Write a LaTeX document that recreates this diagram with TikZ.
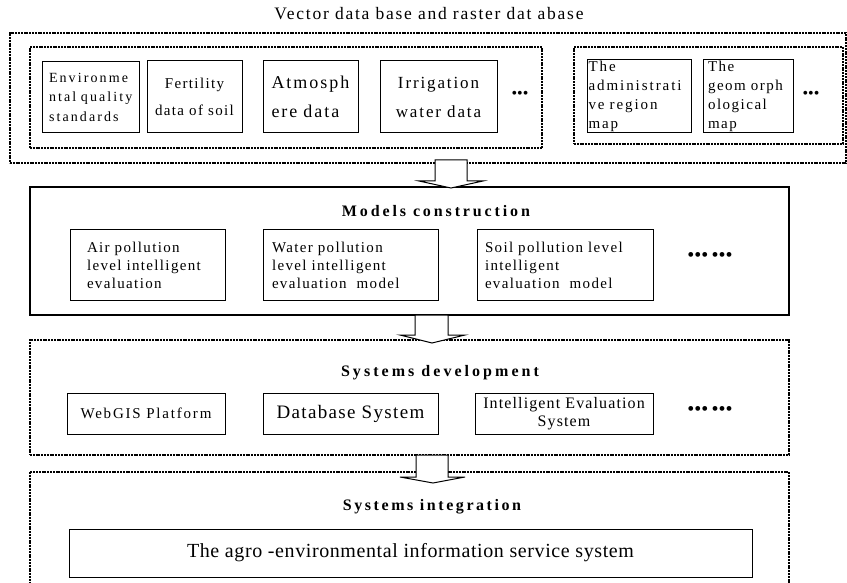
\documentclass[tikz,border=0pt]{standalone}
\usepackage{fontspec}
\setmainfont{Liberation Serif}
\usetikzlibrary{positioning}
\newcommand\spaced[3]{\fontsize{#1}{#3}\selectfont\addfontfeatures{LetterSpace=#2}}

\begin{document}
\begin{tikzpicture}
[x=1pt,y=-1pt,
 every node/.style={inner sep=0pt,outer sep=0pt},
 box/.style={draw=black,line width=1pt},
 grp/.style={draw=black,line width=2.5pt,dash pattern=on 2pt off 0.8pt},
 hdr/.style={font=\bfseries\spaced{16}{18}{18}},
 more/.style={font=\fontsize{16}{16}\selectfont},
 blk/.style={draw=black,fill=white,line width=1pt},
 thick]
\useasboundingbox (0,0) rectangle (847,583);

% data bases
\node (title) at (429,14) {\spaced{17.5}{10}{18}Vector data base and raster dat abase};
\node[grp,minimum width=836,minimum height=130] (db)   at (428,98)    {};
\node[grp,minimum width=512,minimum height=101] (vec)  at (286,97.5)  {};
\node[grp,minimum width=269,minimum height=97]  (ras)  at (708.5,95.5) {};
\node[box,minimum width=97,minimum height=71,inner xsep=7pt,text width=83pt,align=left,
      font=\spaced{14}{15}{19.5}] (env) at (90.5,97)
  {Environme\\ntal quality\\standards};
\node[box,minimum width=95,minimum height=72,align=center,font=\spaced{15}{9}{27}] (fert) [on grid,right=104pt of env]
  {Fertility\\data of soil};
\node[box,minimum width=95,minimum height=72,inner xsep=8.5pt,text width=78pt,align=left,
      font=\spaced{18}{11}{29}] (atm) [on grid,right=116pt of fert]
  {Atmosph\\ere data};
\node[box,minimum width=117,minimum height=72,align=center,font=\spaced{17}{11}{29}] (irr) [on grid,right=128pt of atm]
  {Irrigation\\water data};
\node[more] (dA) at (520,95) {\textbullet\textbullet\textbullet};
\node[box,minimum width=104,minimum height=73,inner xsep=1.5pt,text width=101pt,align=left,
      font=\spaced{15}{13}{19}] (adm) at (639,96.5)
  {The\\administrati\\ve region\\map};
\node[box,minimum width=90,minimum height=73,inner xsep=5pt,text width=80pt,align=left,
      font=\spaced{15}{10}{19}] (geo) [on grid,right=109pt of adm]
  {The\\geom orph\\ological\\map};
\node[more] (dB) at (811,95) {\textbullet\textbullet\textbullet};

% models
\node[box,line width=1.5pt,minimum width=759,minimum height=128] (mod) at (409.5,251) {};
\node[hdr] (modT) at (436,211) {Models construction};
\node[box,minimum width=155,minimum height=70,inner xsep=17pt,text width=121pt,align=left,
      font=\spaced{15}{9}{18}] (air) at (147.5,265)
  {Air pollution\\level intelligent\\evaluation};
\node[box,minimum width=175,minimum height=70,inner xsep=9pt,text width=157pt,align=left,
      font=\spaced{15}{9}{18}] (wat) [on grid,right=203pt of air]
  {Water pollution\\level intelligent\\evaluation\ \ model};
\node[box,minimum width=176,minimum height=70,inner xsep=8pt,text width=160pt,align=left,
      font=\spaced{15}{9}{18}] (soil) [on grid,right=214.5pt of wat]
  {Soil pollution level\\intelligent\\evaluation\ \ model};
\node[more,font=\fontsize{20}{20}\selectfont] (dC) at (710,257) {\textbullet\textbullet\textbullet\,\textbullet\textbullet\textbullet};

% systems development
\node[grp,minimum width=759,minimum height=115] (dev) at (409.5,397.5) {};
\node[hdr,font=\bfseries\spaced{16}{19}{18}] (devT) at (440,373) {Systems development};
\node[box,minimum width=158,minimum height=41,font=\spaced{15}{12}{18}] (web) at (146,413.5) {WebGIS Platform};
\node[box,minimum width=175,minimum height=41,font=\spaced{19}{7}{20}] (dbs) [on grid,right=204.5pt of web] {Database System};
\node[box,minimum width=178,minimum height=41,align=center,font=\spaced{16}{7}{18}] (ies) [on grid,right=213.5pt of dbs]
  {Intelligent Evaluation\\System};
\node[more,font=\fontsize{20}{20}\selectfont] (dD) at (710,411) {\textbullet\textbullet\textbullet\,\textbullet\textbullet\textbullet};

% systems integration
\node[grp,minimum width=759,minimum height=128] (int) at (409.5,536) {};
\node[hdr,font=\bfseries\spaced{16}{16}{18}] (intT) at (432,507) {Systems integration};
\node[box,minimum width=683,minimum height=48,font=\spaced{20}{3}{20}] (agro) at (410.5,553)
  {The agro -environmental information service system\hspace{16pt}};

% block arrows
\draw[blk] (435,160) |- (419,181) -- (451,188) -- (483,181) -| (467,160) -- cycle;
\draw[blk] (415,315) |- (400,335) -- (432,343) -- (465,335) -| (448,315) -- cycle;
\draw[blk] (416,455) |- (400,477) -- (433,483) -- (465,477) -| (448,455) -- cycle;
\end{tikzpicture}
\end{document}
